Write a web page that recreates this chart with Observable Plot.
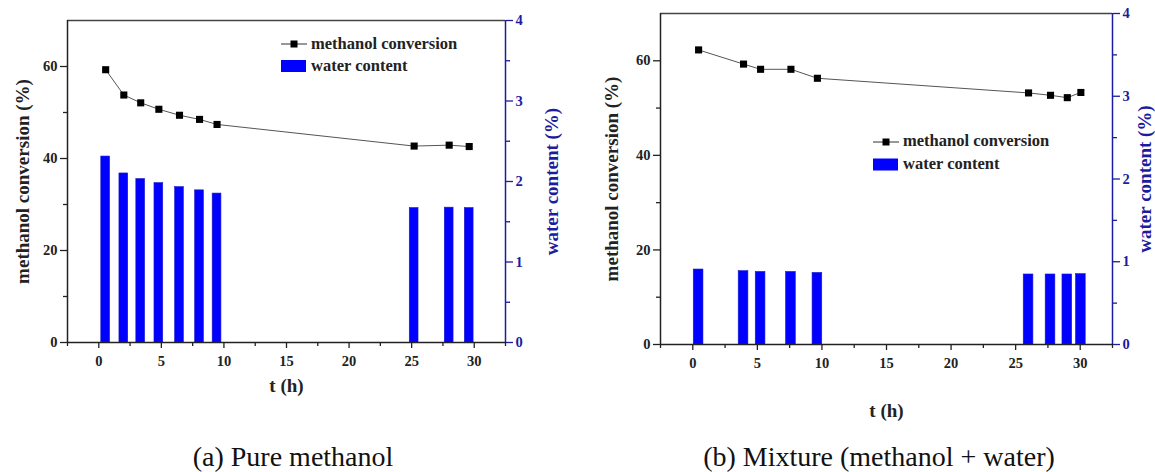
<!DOCTYPE html>
<html><head><meta charset="utf-8">
<script src="https://cdn.jsdelivr.net/npm/d3@7"></script>
<script src="https://cdn.jsdelivr.net/npm/@observablehq/plot@0.6"></script>
<style>
html,body{margin:0;padding:0;background:#fff;}
body{width:1155px;height:472px;position:relative;overflow:hidden;font-family:"Liberation Serif","Times New Roman",serif;}
.panel{position:absolute;top:0;}
.leg{position:absolute;font-weight:bold;font-size:16.5px;color:#222;white-space:nowrap;line-height:1;}
.cap{position:absolute;font-size:28px;line-height:1;color:#111;white-space:nowrap;transform:translateX(-50%);}
</style></head><body>
<div id="pa" class="panel" style="left:0px"></div>
<div id="pb" class="panel" style="left:577px"></div>
<div id="legs"></div>
<div class="cap" style="left:293px;top:443px">(a) Pure methanol</div>
<div class="cap" style="left:879px;top:443px">(b) Mixture (methanol + water)</div>
<script>
// ---- data ----
const tA = [0.55, 2.0, 3.35, 4.8, 6.45, 8.05, 9.45, 25.2, 28.0, 29.6];
const convA = [59.3, 53.8, 52.1, 50.7, 49.4, 48.5, 47.4, 42.7, 42.9, 42.6];
const waterA = [2.31, 2.10, 2.03, 1.98, 1.93, 1.89, 1.85, 1.67, 1.675, 1.67];

const tB = [0.45, 3.93, 5.25, 7.6, 9.65, 26.0, 27.7, 29.0, 30.05];
const convB = [62.3, 59.3, 58.2, 58.2, 56.3, 53.2, 52.7, 52.2, 53.3];
const waterB = [0.906, 0.886, 0.877, 0.877, 0.865, 0.846, 0.846, 0.846, 0.85];

const xTicks = [0, 5, 10, 15, 20, 25, 30];
const xMinorTicks = [-2.5, 2.5, 7.5, 12.5, 17.5, 22.5, 27.5, 32.5];
const yTicks = [0, 20, 40, 60];
const yMinorTicks = [10, 30, 50];
const wTicks = [0, 1, 2, 3, 4];
const wMinorTicks = [0.5, 1.5, 2.5, 3.5];

const xLabel = "t (h)";
const yLabel = "methanol conversion (%)";
const y2Label = "water content (%)";
const legendLine = "methanol conversion";
const legendBar = "water content";

const BLUE = "#0000ff";
const AXBLUE = "#1c1ca0";
const K = 70 / 4; // right axis (0-4) mapped to left axis (0-70)

function panel(t, conv, water, o) {
  const data = t.map((v, i) => ({t: v, c: conv[i], w: water[i]}));
  const axisStyle = {strokeWidth: 1.3};
  return Plot.plot({
    width: o.width, height: o.height,
    marginLeft: o.ml, marginRight: o.mr, marginTop: o.mt, marginBottom: o.mb,
    x: {domain: [-2.5, 32.5]},
    y: {domain: [0, 70]},
    style: {fontFamily: "'Liberation Serif', 'Times New Roman', serif", fontSize: "14.5px", fontWeight: "bold", color: "#222", background: "transparent", overflow: "visible"},
    marks: [
      Plot.rectY(data, {x1: d => d.t - o.bw / 2, x2: d => d.t + o.bw / 2, y1: 0, y2: d => d.w * K, fill: BLUE, stroke: "#1818c8", strokeWidth: 0.6}),
      Plot.line(data, {x: "t", y: "c", stroke: "#555", strokeWidth: 1}),
      Plot.dot(data, {x: "t", y: "c", symbol: "square", r: 4, fill: "#000", stroke: "none"}),
      Plot.ruleY([70], {stroke: "#444", strokeWidth: 1.5}),
      Plot.ruleX([-2.5], {stroke: "#222", strokeWidth: 1.5}),
      Plot.ruleY([0], {stroke: "#222", strokeWidth: 1.5}),
      Plot.ruleX([32.5], {stroke: AXBLUE, strokeWidth: 1.5}),
      Plot.axisX({ticks: xTicks, tickSize: 6, tickPadding: 7, label: null, ...axisStyle}),
      Plot.axisX({ticks: xMinorTicks, tickSize: 4, tickFormat: () => "", label: null, ...axisStyle}),
      Plot.axisY({anchor: "left", ticks: yTicks, tickSize: 7, tickPadding: 3, label: null, ...axisStyle}),
      Plot.axisY({anchor: "left", ticks: yMinorTicks, tickSize: 4, tickFormat: () => "", label: null, ...axisStyle}),
      Plot.axisY({anchor: "right", ticks: wTicks.map(v => v * K), tickSize: 7, tickPadding: 3, tickFormat: d => String(Math.round(d / K)), label: null, color: AXBLUE, ...axisStyle}),
      Plot.axisY({anchor: "right", ticks: wMinorTicks.map(v => v * K), tickSize: 4, tickFormat: () => "", label: null, color: AXBLUE, ...axisStyle}),
      Plot.text([xLabel], {frameAnchor: "bottom", dy: o.xdy, textAnchor: "middle", lineAnchor: "middle", fontSize: 19, fontWeight: "bold", fill: "#222"}),
      Plot.text([yLabel], {frameAnchor: "left", dx: o.ydx, rotate: -90, textAnchor: "middle", lineAnchor: "middle", fontSize: 19, fontWeight: "bold", fill: "#222"}),
      Plot.text([y2Label], {frameAnchor: "right", dx: o.y2dx, rotate: -90, textAnchor: "middle", lineAnchor: "middle", fontSize: 19, fontWeight: "bold", fill: AXBLUE})
    ]
  });
}

document.getElementById("pa").appendChild(panel(tA, convA, waterA, {
  width: 577, height: 420, ml: 67, mr: 72, mt: 20, mb: 78, bw: 0.7, xdy: 43, ydx: -45, y2dx: 46.5
}));
document.getElementById("pb").appendChild(panel(tB, convB, waterB, {
  width: 578, height: 420, ml: 83, mr: 43, mt: 13, mb: 76, bw: 0.75, xdy: 66, ydx: -48.5, y2dx: 32.5
}));

// ---- legends (HTML overlay) ----
function legend(x, y1, y2) {
  const c = document.getElementById("legs");
  const svg = `<svg style="position:absolute;left:${x}px;top:${y1 - 8}px" width="28" height="${y2 - y1 + 16}">
    <line x1="0" x2="26" y1="8" y2="8" stroke="#333" stroke-width="1"/>
    <rect x="9.5" y="4.5" width="7" height="7" fill="#000"/>
    <rect x="0" y="${y2 - y1 + 2}" width="25" height="12" fill="${BLUE}"/>
  </svg>`;
  c.insertAdjacentHTML("beforeend", svg);
  c.insertAdjacentHTML("beforeend", `<div class="leg" style="left:${x + 30}px;top:${y1 - 8.5}px">${legendLine}</div>`);
  c.insertAdjacentHTML("beforeend", `<div class="leg" style="left:${x + 30}px;top:${y2 - 8.5}px">${legendBar}</div>`);
}
legend(281, 44, 66);
legend(873, 141.5, 164);
</script>
</body></html>
